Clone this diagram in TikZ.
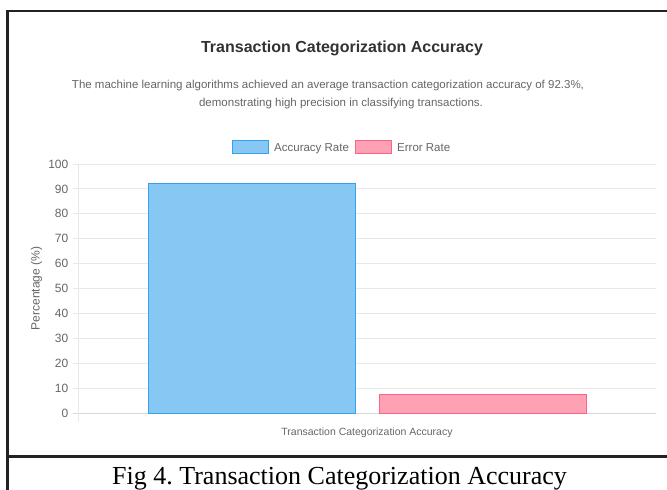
\documentclass[tikz,border=0pt]{standalone}
\usepackage{fontspec}
\setmainfont{Liberation Serif}
\setsansfont{Liberation Sans}
\frenchspacing
\definecolor{framec}{HTML}{222222}
\definecolor{titlec}{HTML}{333333}
\definecolor{textc}{HTML}{666666}
\definecolor{gridc}{HTML}{E8E8E8}
\definecolor{zeroc}{HTML}{D9D9D9}
\definecolor{bluefill}{HTML}{86C7F3}
\definecolor{blueedge}{HTML}{36A2EB}
\definecolor{pinkfill}{HTML}{FFA1B5}
\definecolor{pinkedge}{HTML}{FF6384}
\begin{document}
\begin{tikzpicture}[x=1pt,y=-1pt,
  ticklab/.style={font=\sffamily\fontsize{12}{14}\selectfont, text=textc, inner sep=0pt, anchor=east},
  gridline/.style={draw=gridc, line width=0.9pt},
  framebar/.style={draw=framec, line width=2.5pt},
  bluebar/.style={fill=bluefill, draw=blueedge, line width=0.9pt},
  pinkbar/.style={fill=pinkfill, draw=pinkedge, line width=0.9pt},
  subtext/.style={font=\sffamily\fontsize{11.5}{14}\selectfont, text=textc, inner sep=0pt, anchor=base},
  legtext/.style={font=\sffamily\fontsize{11.5}{13}\selectfont, text=textc, inner sep=0pt, anchor=base west}
]
\useasboundingbox (0,0) rectangle (667,490);
\fill[white] (0,0) rectangle (667,490);

% frame
\draw[framebar] (7.7,490) -- (7.7,11.2) -- (667,11.2);
\draw[framebar] (7.7,456.3) -- (667,456.3);

% title and subtitle
\node[font=\sffamily\bfseries\fontsize{16}{19}\selectfont, text=titlec, inner sep=0pt, anchor=base] (title) at (342,52) {Transaction Categorization Accuracy};
\node[subtext] (sub1) at (328,88) {The machine learning algorithms achieved an average transaction categorization accuracy of 92.3\%,};
\node[subtext] (sub2) at (341,106) {demonstrating high precision in classifying transactions.};

% legend
\node[bluebar, minimum width=36pt, minimum height=13pt, inner sep=0pt] (legA) at (250.5,147) {};
\node[legtext] (legAt) at (274,151) {Accuracy Rate};
\node[pinkbar, minimum width=36pt, minimum height=13pt, inner sep=0pt] (legE) at (373,147) {};
\node[legtext] (legEt) at (397,151) {Error Rate};

% grid
\foreach \v in {10,20,...,100} {
  \draw[gridline] (73,{413.3-\v*2.493}) -- (656,{413.3-\v*2.493});
  \node[ticklab] at (68.5,{413.3-\v*2.493}) {\v};
}
\draw[draw=zeroc, line width=1pt] (73,413.3) -- (656,413.3);
\node[ticklab] (zero) at (68.5,413.3) {0};
\draw[gridline] (78,164) -- (78,421.5);

% bars
\draw[bluebar] (148,413.3) rectangle (355.5,{413.3-92.3*2.493});
\draw[pinkbar] (379,413.3) rectangle (586.5,{413.3-7.7*2.493});

% axis titles
\node[font=\sffamily\fontsize{12}{14}\selectfont, text=textc, inner sep=0pt, rotate=90] (ytitle) at (36.5,288.5) {Percentage (\%)};
\node[font=\sffamily\fontsize{10.5}{12}\selectfont, text=textc, inner sep=0pt] (xtitle) at (367,432.5) {Transaction Categorization Accuracy};

% caption
\node[font=\fontsize{26}{28}\selectfont, text=black, inner sep=0pt, anchor=base] (cap) at (339.5,484.5) {Fig 4. Transaction Categorization Accuracy};
\end{tikzpicture}
\end{document}
